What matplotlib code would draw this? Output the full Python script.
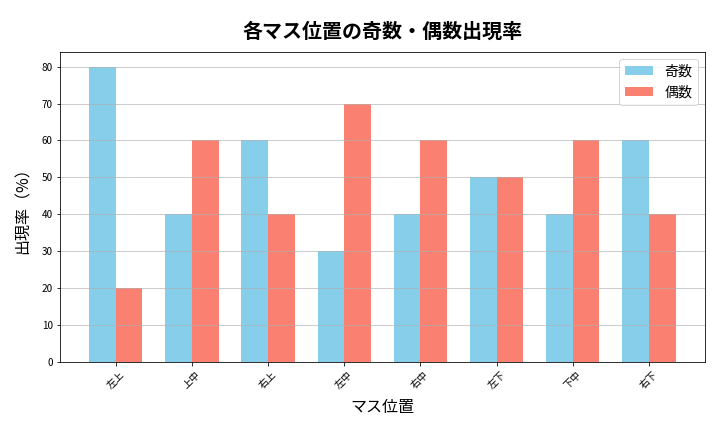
import numpy as np
import matplotlib
matplotlib.use('Agg')
import matplotlib.pyplot as plt

plt.rcParams['font.family'] = ['Noto Sans CJK JP', 'DejaVu Sans']

positions = ['左上', '上中', '右上', '左中', '右中', '左下', '下中', '右下']
odd_rates = [80, 40, 60, 30, 40, 50, 40, 60]
even_rates = [20, 60, 40, 70, 60, 50, 60, 40]

fig, ax = plt.subplots(figsize=(10, 6), dpi=72)
x = np.arange(len(positions))
width = 0.35

ax.bar(x - width / 2, odd_rates, width, color='skyblue', label='奇数')
ax.bar(x + width / 2, even_rates, width, color='salmon', label='偶数')

ax.set_title('各マス位置の奇数・偶数出現率', fontsize=20, fontweight='bold', pad=14)
ax.set_xlabel('マス位置', fontsize=16, labelpad=9)
ax.set_ylabel('出現率（%）', fontsize=16, labelpad=10)
ax.set_xticks(x)
ax.set_xticklabels(positions, rotation=45, fontsize=10)
ax.tick_params(axis='y', labelsize=10)
ax.grid(axis='y', alpha=0.8)
ax.legend(fontsize=14)

plt.subplots_adjust(left=0.083, right=0.979, top=0.88, bottom=0.162)
plt.savefig('out.png')
